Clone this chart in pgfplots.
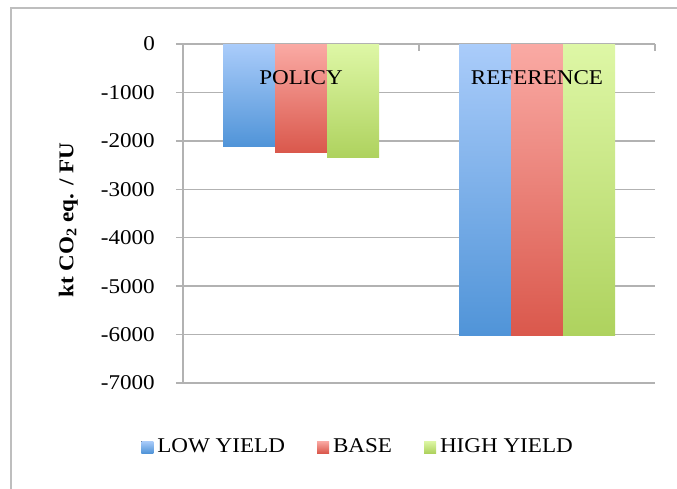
\documentclass[border=0pt]{standalone}
\usepackage{pgfplots}
\pgfplotsset{compat=1.18}
\usepackage{fontspec}
\setmainfont{Liberation Serif}[FakeStretch=1.1]
\definecolor{bluetop}{RGB}{170,204,250}
\definecolor{bluebot}{RGB}{80,148,216}
\definecolor{redtop}{RGB}{250,170,164}
\definecolor{redbot}{RGB}{218,88,76}
\definecolor{greentop}{RGB}{222,247,166}
\definecolor{greenbot}{RGB}{174,210,94}
\definecolor{gridgray}{RGB}{178,178,178}
\begin{document}
\begin{tikzpicture}
\fontsize{21}{25}\selectfont
\path[use as bounding box] (0,0) rectangle (677pt,488pt);
\draw[color={rgb,255:red,190;green,190;blue,190}, line width=1.6pt] (11pt,-5pt) -- (11pt,480pt) -- (690pt,480pt);
\begin{axis}[
  at={(183pt,105pt)}, anchor=south west,
  scale only axis, width=472pt, height=339pt,
  ybar=0pt, bar width=52pt,
  xmin=-0.5, xmax=1.5, ymin=-7000, ymax=0,
  axis x line*=top, axis y line*=left,
  axis line style={gridgray, line width=1.5pt},
  tick align=outside, major tick length=7pt,
  ytick={-7000,-6000,...,0},
  ymajorgrids, major grid style={gridgray, line width=1.5pt},
  ytick style={gridgray, line width=1.5pt},
  xtick={-0.5,0.5,1.5}, xticklabels={},
  xtick style={gridgray, line width=1.5pt, yshift=-7pt},
  yticklabel style={font=\fontsize{21}{25}\selectfont, xshift=-14pt},
  /pgf/number format/assume math mode=true,
  /pgf/number format/set thousands separator={},
  ylabel={\textbf{kt CO\textsubscript{2} eq. / FU}},
  every axis y label/.style={at={(axis description cs:-0.243,0.48)}, rotate=90, anchor=center, font=\fontsize{21}{25}\selectfont},
  legend columns=3,
  legend style={at={(0.371,-0.189)}, anchor=center, draw=none, fill=none, font=\fontsize{21}{25}\selectfont,
    /tikz/every even column/.append style={column sep=30pt},
    /tikz/every odd column/.append style={column sep=2pt}},
  legend image code/.code={\fill[#1] (0pt,-6pt) rectangle (12pt,6pt);},
]
% POLICY
\addplot[draw=none, bar shift=-52pt, top color=bluetop, bottom color=bluebot] coordinates {(0,-2120)};
\addplot[draw=none, bar shift=0pt, top color=redtop, bottom color=redbot] coordinates {(0,-2240)};
\addplot[draw=none, bar shift=52pt, top color=greentop, bottom color=greenbot] coordinates {(0,-2350)};
% REFERENCE
\addplot[forget plot, draw=none, bar shift=-52pt, top color=bluetop, bottom color=bluebot] coordinates {(1,-6010)};
\addplot[forget plot, draw=none, bar shift=0pt, top color=redtop, bottom color=redbot] coordinates {(1,-6010)};
\addplot[forget plot, draw=none, bar shift=52pt, top color=greentop, bottom color=greenbot] coordinates {(1,-6010)};
\legend{LOW YIELD, BASE, HIGH YIELD}
\node[anchor=north, yshift=-19pt, font=\fontsize{21}{25}\selectfont] at (axis cs:0,0) {POLICY};
\node[anchor=north, yshift=-19pt, font=\fontsize{21}{25}\selectfont] at (axis cs:1,0) {REFERENCE};
\end{axis}
\end{tikzpicture}
\end{document}
